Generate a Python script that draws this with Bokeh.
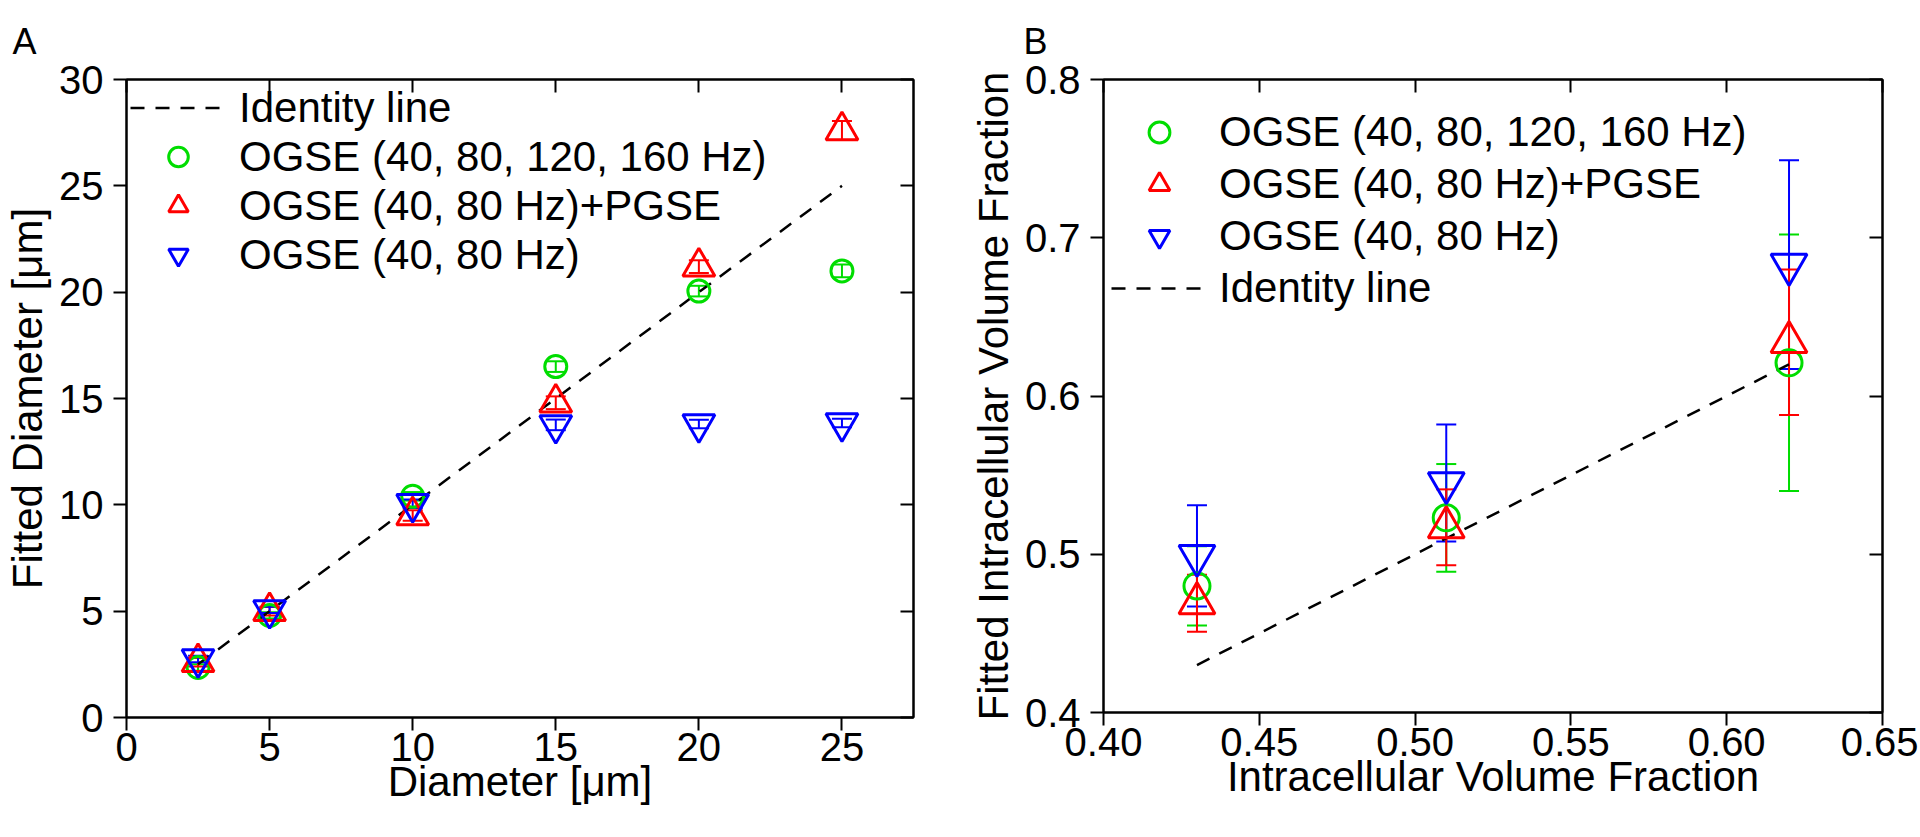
from bokeh.plotting import figure
from bokeh.models import (ColumnDataSource, Whisker, TeeHead, Legend, LegendItem,
                          LinearAxis, FixedTicker, NumeralTickFormatter, Range1d)
from bokeh.layouts import row
from bokeh.embed import file_html
from bokeh.resources import INLINE

FONT = "Liberation Sans"
GREEN = "#00dd00"
RED = "#ff0000"
BLUE = "#0000ff"

# ---------------- Panel A data ----------------
a_x = [2.5, 5, 10, 15, 20, 25]
a_green = [2.35, 4.8, 10.4, 16.5, 20.05, 21.0]
a_green_err = [0.15, 0.15, 0.2, 0.25, 0.25, 0.3]
a_red = [2.6, 5.0, 9.5, 14.8, 21.2, 27.6]
a_red_err = [0.2, 0.2, 0.25, 0.3, 0.3, 0.45]
a_blue = [2.75, 5.06, 10.05, 13.76, 13.8, 13.85]
a_blue_err = [0.15, 0.15, 0.2, 0.25, 0.2, 0.2]
a_identity = [2.5, 25]
a_xticks = [0, 5, 10, 15, 20, 25]
a_yticks = [0, 5, 10, 15, 20, 25, 30]

# ---------------- Panel B data ----------------
b_x = [0.43, 0.51, 0.62]
b_green = [0.480, 0.523, 0.621]
b_green_err = [0.025, 0.034, 0.081]
b_red = [0.469, 0.517, 0.634]
b_red_err = [0.018, 0.024, 0.046]
b_blue = [0.499, 0.545, 0.683]
b_blue_err = [0.032, 0.037, 0.066]
b_identity = [0.43, 0.62]
b_xticks = [0.40, 0.45, 0.50, 0.55, 0.60, 0.65]
b_yticks = [0.4, 0.5, 0.6, 0.7, 0.8]

labels = ["OGSE (40, 80, 120, 160 Hz)", "OGSE (40, 80 Hz)+PGSE", "OGSE (40, 80 Hz)"]


def style_axis(ax, ticks, fmt, is_x):
    ax.ticker = FixedTicker(ticks=ticks)
    ax.formatter = NumeralTickFormatter(format=fmt)
    ax.axis_line_width = 2
    ax.axis_line_color = "black"
    ax.major_tick_line_width = 2
    ax.major_tick_line_color = "black"
    ax.major_tick_out = 13
    ax.major_tick_in = 0
    ax.minor_tick_out = 0
    ax.minor_tick_in = 0
    ax.major_label_text_font = FONT
    ax.major_label_text_font_size = "40px"
    ax.major_label_text_color = "black"
    ax.major_label_standoff = 2 if is_x else 10
    ax.axis_label_text_font = FONT
    ax.axis_label_text_font_size = "42px"
    ax.axis_label_text_font_style = "normal"
    ax.axis_label_text_color = "black"
    ax.axis_label_standoff = -6 if is_x else 5


def mirror_axis(p, side, ticks):
    ax = LinearAxis(ticker=FixedTicker(ticks=ticks))
    ax.major_label_text_font_size = "1px"
    ax.major_label_text_color = None
    ax.major_label_standoff = 0
    ax.axis_line_width = 2
    ax.axis_line_color = "black"
    ax.major_tick_line_width = 2
    ax.major_tick_line_color = "black"
    ax.major_tick_in = 13
    ax.major_tick_out = 0
    ax.minor_tick_in = 0
    ax.minor_tick_out = 0
    p.add_layout(ax, side)


def make_fig(title, xr, yr, fw, fh, bl, br, bt, bb, title_offset):
    p = figure(output_backend="svg", toolbar_location=None,
               frame_width=fw, frame_height=fh,
               x_range=Range1d(*xr), y_range=Range1d(*yr),
               min_border_left=bl, min_border_right=br,
               min_border_top=bt, min_border_bottom=bb,
               title=title)
    p.xgrid.visible = False
    p.ygrid.visible = False
    p.outline_line_color = "black"
    p.outline_line_width = 2
    p.background_fill_color = "white"
    p.border_fill_color = "white"
    p.title.text_font = FONT
    p.title.text_font_size = "36px"
    p.title.text_font_style = "normal"
    p.title.text_color = "black"
    p.title.align = "left"
    p.title.offset = title_offset
    p.title.standoff = 36
    return p


def add_series(p, x, y, err, color, marker, size):
    src = ColumnDataSource(dict(x=x, y=y,
                                lo=[a - b for a, b in zip(y, err)],
                                hi=[a + b for a, b in zip(y, err)]))
    w = Whisker(source=src, base="x", upper="hi", lower="lo",
                line_color=color, line_width=2,
                upper_head=TeeHead(size=20, line_color=color, line_width=2),
                lower_head=TeeHead(size=20, line_color=color, line_width=2))
    p.add_layout(w)
    r = p.scatter("x", "y", source=src, marker=marker, size=size,
                  fill_color=None, line_color=color, line_width=3)
    return r


# ================= Panel A =================
pA = make_fig("A", (0, 27.5), (0, 30), 787, 638, 126, 53, 79, 112, -114)
style_axis(pA.xaxis[0], a_xticks, "0", True)
style_axis(pA.yaxis[0], a_yticks, "0", False)
pA.xaxis[0].axis_label = "Diameter [μm]"
pA.yaxis[0].axis_label = "Fitted Diameter [μm]"
mirror_axis(pA, "above", a_xticks)
mirror_axis(pA, "right", a_yticks)

idA = pA.line(a_identity, a_identity, line_color="black", line_width=2.5, line_dash="14 11")
gA = add_series(pA, a_x, a_green, a_green_err, GREEN, "circle", 22)
rA = add_series(pA, a_x, a_red, a_red_err, RED, "triangle", 32)
bA = add_series(pA, a_x, a_blue, a_blue_err, BLUE, "inverted_triangle", 32)

legA = Legend(items=[LegendItem(label="Identity line", renderers=[idA]),
                     LegendItem(label=labels[0], renderers=[gA]),
                     LegendItem(label=labels[1], renderers=[rA]),
                     LegendItem(label=labels[2], renderers=[bA])],
              location="top_left", margin=4, padding=4, spacing=0,
              glyph_width=96, glyph_height=49, label_height=49,
              label_standoff=13, label_text_font=FONT,
              label_text_font_size="42px", label_text_color="black",
              border_line_color=None, background_fill_alpha=0.0)
pA.add_layout(legA)

# ================= Panel B =================
pB = make_fig("B", (0.40, 0.65), (0.4, 0.8), 779, 633, 131, 36, 79, 117, -80)
style_axis(pB.xaxis[0], b_xticks, "0.00", True)
style_axis(pB.yaxis[0], b_yticks, "0.0", False)
pB.xaxis[0].axis_label = "Intracellular Volume Fraction"
pB.yaxis[0].axis_label = "Fitted Intracellular Volume Fraction"
mirror_axis(pB, "above", b_xticks)
mirror_axis(pB, "right", b_yticks)

idB = pB.line(b_identity, b_identity, line_color="black", line_width=2.5, line_dash="14 11")
gB = add_series(pB, b_x, b_green, b_green_err, GREEN, "circle", 26)
bB = add_series(pB, b_x, b_blue, b_blue_err, BLUE, "inverted_triangle", 36)
rB = add_series(pB, b_x, b_red, b_red_err, RED, "triangle", 36)

legB = Legend(items=[LegendItem(label=labels[0], renderers=[gB]),
                     LegendItem(label=labels[1], renderers=[rB]),
                     LegendItem(label=labels[2], renderers=[bB]),
                     LegendItem(label="Identity line", renderers=[idB])],
              location=(8, 398), margin=0, padding=5, spacing=0,
              glyph_width=96, glyph_height=52, label_height=52,
              label_standoff=12, label_text_font=FONT,
              label_text_font_size="42px", label_text_color="black",
              border_line_color=None, background_fill_color="white",
              background_fill_alpha=0.6)
pB.add_layout(legB)

layout = row(pA, pB)
open("out.html", "w").write(file_html(layout, INLINE))
